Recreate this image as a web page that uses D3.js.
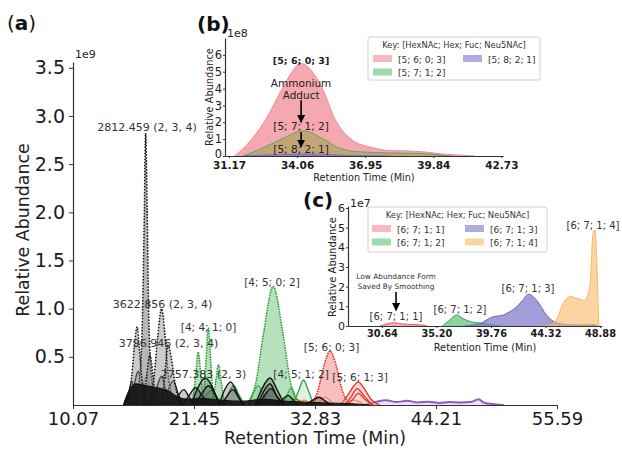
<!DOCTYPE html>
<html>
<head>
<meta charset="utf-8">
<script src="https://cdn.jsdelivr.net/npm/d3@7"></script>
<style>
body { margin: 0; background: #fff; }
text { font-family: 'DejaVu Sans', sans-serif; }
</style>
</head>
<body>
<svg width="622" height="450"></svg>
<script>
// ---- panel (a): retention time (min) / abundance (x1e9) ----
let mainXTicks = [10.07, 21.45, 32.83, 44.21, 55.59]
let mainYTicks = [0.5, 1.0, 1.5, 2.0, 2.5, 3.0, 3.5]

let grayDotted = [
    [[15.9, 0], [16.3, 0.25], [16.6, 0.9], [16.78, 2.0], [16.9, 2.82], [17.05, 2.0], [17.2, 0.9], [17.5, 0.25], [17.9, 0]],
    [[15.2, 0], [15.6, 0.3], [15.9, 0.68], [16.1, 0.81], [16.3, 0.6], [16.6, 0.22], [17.0, 0]],
    [[16.7, 0], [17.0, 0.3], [17.3, 0.52], [17.6, 0.3], [17.9, 0]],
    [[17.3, 0], [17.7, 0.3], [18.05, 0.72], [18.4, 1.0], [18.7, 0.75], [19.0, 0.35], [19.5, 0]],
    [[18.4, 0], [18.7, 0.3], [19.0, 0.62], [19.3, 0.5], [19.7, 0.2], [20.2, 0]]
]
let blackSolid = [
    [[14.9, 0], [15.3, 0.12], [15.6, 0.25], [15.9, 0.1], [16.2, 0]],
    [[15.4, 0], [15.8, 0.2], [16.2, 0.35], [16.6, 0.15], [17.0, 0]],
    [[16.0, 0], [16.5, 0.15], [17.0, 0.3], [17.4, 0.12], [17.8, 0]],
    [[17.5, 0], [18.0, 0.2], [18.4, 0.3], [18.8, 0.15], [19.2, 0]],
    [[18.5, 0], [19.0, 0.15], [19.5, 0.25], [20.0, 0.1], [20.4, 0]],
    [[19.6, 0], [20.0, 0.1], [20.5, 0.16], [21.0, 0.08], [21.5, 0]],
    [[20.4, 0], [21.0, 0.1], [21.6, 0.18], [22.2, 0.1], [22.8, 0]],
    [[21.2, 0], [21.7, 0.15], [22.5, 0.28], [23.2, 0.18], [23.8, 0]],
    [[21.5, 0], [22.2, 0.12], [22.8, 0.2], [23.5, 0.1], [24.0, 0]],
    [[23.8, 0], [24.3, 0.15], [24.9, 0.24], [25.5, 0.12], [26.0, 0]],
    [[24.0, 0], [24.6, 0.1], [25.1, 0.16], [25.7, 0.07], [26.2, 0]],
    [[27.2, 0], [27.9, 0.18], [28.6, 0.28], [29.3, 0.15], [30.0, 0]],
    [[27.4, 0], [28.0, 0.14], [28.6, 0.22], [29.2, 0.1], [29.8, 0]],
    [[27.5, 0], [28.1, 0.1], [28.7, 0.17], [29.3, 0.08], [30.0, 0]],
    [[29.3, 0], [29.8, 0.06], [30.3, 0.1], [30.8, 0.05], [31.2, 0]],
    [[32.0, 0], [32.6, 0.05], [33.2, 0.08], [33.8, 0.04], [34.4, 0]]
]
let baseClutter = [[14.8, 0], [15.2, 0.12], [16, 0.22], [17, 0.2], [18, 0.18], [19, 0.15], [20, 0.08], [21, 0.06], [22, 0.07], [24, 0.05], [26, 0.04], [28, 0.06], [30, 0.04], [32, 0.03], [34, 0.02], [36, 0.015], [38, 0]]
let greenDotted = [
    [[21.3, 0], [21.6, 0.3], [21.85, 0.55], [22.1, 0.3], [22.4, 0]],
    [[22.3, 0], [22.55, 0.4], [22.8, 0.8], [23.05, 0.4], [23.3, 0]],
    [[23.2, 0], [23.5, 0.25], [23.75, 0.42], [24.0, 0.25], [24.3, 0]],
    [[26.6, 0], [27.3, 0.25], [28.0, 0.75], [28.9, 1.23], [29.8, 0.75], [30.5, 0.25], [31.1, 0]]
]
let greenSolid = [
    [[22.0, 0], [22.6, 0.1], [23.1, 0.15], [23.6, 0.06], [24.1, 0]],
    [[24.2, 0], [24.7, 0.12], [25.2, 0.2], [25.7, 0.1], [26.2, 0]],
    [[26.5, 0], [27.0, 0.12], [27.5, 0.2], [28.0, 0.1], [28.5, 0]],
    [[29.7, 0], [30.2, 0.1], [30.6, 0.18], [31.0, 0.08], [31.4, 0]],
    [[30.8, 0], [31.3, 0.15], [31.75, 0.26], [32.2, 0.15], [32.7, 0]]
]
let redDotted = [
    [[32.4, 0], [33.1, 0.15], [33.7, 0.42], [34.25, 0.56], [34.8, 0.42], [35.4, 0.15], [36.1, 0]]
]
let redSolid = [
    [[35.2, 0], [35.9, 0.1], [36.5, 0.2], [36.9, 0.24], [37.4, 0.18], [38.1, 0.06], [38.9, 0]],
    [[35.6, 0], [36.2, 0.08], [36.8, 0.17], [37.4, 0.1], [38.2, 0]],
    [[35.8, 0], [36.4, 0.06], [36.9, 0.12], [37.5, 0.06], [38.3, 0]],
    [[26.5, 0], [27.2, 0.05], [27.9, 0]],
    [[28.0, 0], [28.6, 0.04], [29.2, 0]],
    [[30.2, 0], [31.0, 0.06], [31.8, 0]],
    [[32.5, 0], [33.3, 0.08], [34.0, 0]]
]
let orangeSolid = [
    [[31.0, 0], [31.8, 0.05], [32.5, 0]],
    [[33.0, 0], [33.8, 0.08], [34.6, 0]],
    [[35.5, 0], [36.5, 0.05], [37.5, 0]]
]
let purpleTail = [[37.5, 0], [38.5, 0.03], [39.5, 0.05], [40.5, 0.03], [41.5, 0.045], [42.5, 0.025], [43.5, 0.035], [44.5, 0.02], [45.5, 0.03], [46.5, 0.025], [47.5, 0.03], [48.2, 0.06], [48.8, 0.02], [49.5, 0.01], [50.5, 0]]
let mainLabels = [
    ['2812.459 (2, 3, 4)', 17.03, 2.84],
    ['3622.856 (2, 3, 4)', 18.49, 1.01],
    ['3796.946 (2, 3, 4)', 19.05, 0.6],
    ['[4; 4; 1; 0]', 22.82, 0.77],
    ['2757.383 (2, 3)', 22.35, 0.28],
    ['[4; 5; 0; 2]', 28.79, 1.235],
    ['[4; 5; 1; 2]', 31.52, 0.28],
    ['[5; 6; 0; 3]', 34.39, 0.56],
    ['[5; 6; 1; 3]', 37.07, 0.25]
]

// ---- panel (b): abundance x1e8 ----
let bXTicks = [31.17, 34.06, 36.95, 39.84, 42.73]
let bYTicks = [0, 1, 2, 3, 4, 5, 6]
let bNames = ['[5; 6; 0; 3]', '[5; 7; 1; 2]', '[5; 8; 2; 1]']
let b5603 = [[31.4, 0], [31.85, 0.55], [32.7, 2.1], [33.55, 4.3], [33.9, 5.1], [34.2, 5.5], [34.5, 5.3], [35.1, 4.1], [35.7, 2.1], [36.4, 0.95], [37.25, 0.5], [38.0, 0.32], [38.8, 0.3], [39.4, 0.25], [40.2, 0.12], [41.0, 0.05], [41.6, 0]]
let b5712 = [[31.77, 0], [32.4, 0.35], [33.55, 1.1], [34.3, 1.5], [35.1, 1.07], [35.8, 0.5], [36.66, 0.25], [38.0, 0.18], [39.3, 0.15], [40.2, 0.05], [40.6, 0]]
let b5821 = [[31.8, 0], [32.5, 0.05], [33.5, 0.1], [34.3, 0.12], [35.2, 0.1], [36.0, 0.05], [37.0, 0.02], [38.0, 0]]

// ---- panel (c): abundance x1e7 ----
let cXTicks = [30.64, 35.20, 39.76, 44.32, 48.88]
let cYTicks = [0, 1, 2, 3, 4, 5, 6]
let cNames = ['[6; 7; 1; 1]', '[6; 7; 1; 2]', '[6; 7; 1; 3]', '[6; 7; 1; 4]']
let c6711 = [[30.5, 0], [31.0, 0.1], [31.7, 0.17], [32.4, 0.1], [33.2, 0.08], [34.0, 0.05], [34.4, 0]]
let c6712 = [[35.7, 0], [36.3, 0.3], [36.9, 0.56], [37.5, 0.35], [38.2, 0.2], [38.8, 0.15], [39.6, 0.08], [40.5, 0]]
let c6713 = [[37.6, 0], [38.8, 0.12], [39.9, 0.46], [40.8, 0.56], [41.4, 0.75], [41.9, 0.97], [42.4, 1.3], [42.9, 1.62], [43.6, 1.3], [44.4, 0.56], [45.3, 0.15], [46.5, 0.06], [47.5, 0.05], [48.4, 0.07], [48.7, 0]]
let c6714 = [[44.3, 0], [45.0, 0.15], [45.3, 0.4], [45.8, 1.15], [46.4, 1.5], [47.0, 1.4], [47.6, 1.3], [48.05, 2.1], [48.3, 4.7], [48.46, 4.9], [48.63, 3.0], [48.8, 0.05], [48.85, 0]]

let pink = '#f28b96', green = '#5fbf78', purple = '#7b74c9', orange = '#f9b865'

let svg = d3.select('svg')
svg.append('defs').append('marker')
    .attr('id', 'arrow')
    .attr('viewBox', '0 0 10 10')
    .attr('refX', 9).attr('refY', 5)
    .attr('markerWidth', 5).attr('markerHeight', 5)
    .attr('orient', 'auto')
    .append('path').attr('d', 'M0,0 L10,5 L0,10 z').attr('fill', '#000')

function drawPeak(g, x, y, pts, fill, fillOp, stroke, sw, dotted) {
    let area = d3.area().x(d => x(d[0])).y0(y(0)).y1(d => y(d[1])).curve(d3.curveMonotoneX)
    let line = d3.line().x(d => x(d[0])).y(d => y(d[1])).curve(d3.curveMonotoneX)
    if (fill) {
        g.append('path').datum(pts).attr('d', area)
            .attr('fill', fill).attr('fill-opacity', fillOp)
    }
    if (stroke) {
        g.append('path').datum(pts).attr('d', line)
            .attr('fill', 'none').attr('stroke', stroke).attr('stroke-width', sw)
            .attr('stroke-linecap', 'round')
            .attr('stroke-dasharray', dotted ? '0,' + dotted : null)
    }
}

function drawAxes(x, y, xt, yt, xfmt, yfmt, fx, fy, tick, padX, padY, bold) {
    let gx = svg.append('g').attr('transform', 'translate(0,' + y.range()[0] + ')')
        .call(d3.axisBottom(x).tickValues(xt).tickFormat(xfmt).tickSize(tick).tickSizeOuter(0).tickPadding(padX))
    let gy = svg.append('g').attr('transform', 'translate(' + x.range()[0] + ',0)')
        .call(d3.axisLeft(y).tickValues(yt).tickFormat(yfmt).tickSize(tick).tickSizeOuter(0).tickPadding(padY))
    gx.attr('font-size', fx).attr('font-family', null).attr('font-weight', bold ? 'bold' : null)
    gy.attr('font-size', fy).attr('font-family', null)
    for (let a of [gx, gy]) {
        a.select('.domain').attr('stroke', '#333').attr('stroke-width', 1.2)
        a.selectAll('.tick line').attr('stroke', '#333')
        a.selectAll('.tick text').attr('fill', '#1a1a1a')
    }
    return gy
}

function label(txt, x, y, size, opts) {
    opts = opts || {}
    let t = svg.append('text').attr('x', x).attr('y', y)
        .attr('font-size', size).attr('fill', opts.fill || '#222')
        .attr('text-anchor', opts.anchor || 'start')
        .attr('font-weight', opts.bold ? 'bold' : null)
        .text(txt)
    if (opts.rotate) t.attr('transform', 'rotate(-90,' + x + ',' + y + ')')
    return t
}

function arrow(x1, y1, x2, y2) {
    svg.append('line').attr('x1', x1).attr('y1', y1).attr('x2', x2).attr('y2', y2)
        .attr('stroke', '#000').attr('stroke-width', 1.6).attr('marker-end', 'url(#arrow)')
}

function drawLegend(x0, y0, w, h, names, colors, cols, rows, titleSize, textSize) {
    svg.append('rect').attr('x', x0).attr('y', y0).attr('width', w).attr('height', h)
        .attr('rx', 2).attr('fill', '#fff').attr('fill-opacity', 0.85)
        .attr('stroke', '#d0d0d0')
    label('Key: [HexNAc; Hex; Fuc; Neu5NAc]', x0 + w / 2, y0 + 11, titleSize, { anchor: 'middle', fill: '#333' })
    names.forEach((n, i) => {
        let c = Math.floor(i / rows), r = i % rows
        let px = cols[c], py = y0 + 18 + r * 13.5
        svg.append('rect').attr('x', px).attr('y', py).attr('width', 19).attr('height', 7)
            .attr('fill', colors[i]).attr('fill-opacity', 0.6)
        label(n, px + 25, py + 7.5, textSize, { fill: '#333' })
    })
}

// ================= panel (a) =================
let x = d3.scaleLinear().domain([10.07, 55.59]).range([73, 557])
let y = d3.scaleLinear().domain([0, 3.56]).range([405, 62])
let ga = svg.append('g')

drawPeak(ga, x, y, purpleTail, '#b9a1e0', 0.3, '#8a5cc8', 2)
greenSolid.forEach(p => drawPeak(ga, x, y, p, '#8fd49a', 0.3, '#2fa845', 1.4))
orangeSolid.forEach(p => drawPeak(ga, x, y, p, null, 0, '#f08c30', 1.2))
redSolid.forEach((p, i) => drawPeak(ga, x, y, p, i == 0 ? '#f08080' : null, 0.35, '#e8332a', 1.3))
redDotted.forEach(p => drawPeak(ga, x, y, p, '#f08080', 0.5, '#e8332a', 1.8, 2.6))
greenDotted.forEach(p => drawPeak(ga, x, y, p, '#5cbf6a', 0.45, '#2e9e40', 1.8, 2.6))
blackSolid.forEach(p => drawPeak(ga, x, y, p, '#333', 0.25, '#111', 1.4))
grayDotted.forEach((p, i) => drawPeak(ga, x, y, p, i == 0 ? '#aaaaaa' : '#8c8c8c', i == 0 ? 0.85 : 0.45, '#1a1a1a', 1.8, 3))
drawPeak(ga, x, y, baseClutter, '#111', 0.9, '#111', 1)

mainLabels.forEach(l => label(l[0], x(l[1]), y(l[2]), l[0][0] == '[' ? 10.5 : 11, { anchor: 'middle', fill: '#333' }))

drawAxes(x, y, mainXTicks, mainYTicks, d3.format('.2f'), d3.format('.1f'), 18, 19, 4, 3, 4)
label('1e9', 75, 58, 11)
label('Relative Abundance', 29, 230, 17.4, { anchor: 'middle', rotate: true })
label('Retention Time (Min)', 315, 444, 17.4, { anchor: 'middle' })
svg.append('text').attr('x', 7).attr('y', 30).attr('font-size', 20).attr('fill', '#111')
    .call(t => {
        t.append('tspan').text('(')
        t.append('tspan').attr('font-weight', 'bold').text('a')
        t.append('tspan').text(')')
    })

// ================= panel (b) =================
let xb = d3.scaleLinear().domain([31.0, 42.8]).range([225, 503])
let yb = d3.scaleLinear().domain([0, 7]).range([156, 38])
let gb = svg.append('g')
drawPeak(gb, xb, yb, b5603, pink, 0.75, pink, 1)
drawPeak(gb, xb, yb, b5712, '#8fa23a', 0.5, '#5aa86a', 1)
drawPeak(gb, xb, yb, b5821, purple, 0.7, purple, 1)
let gyb = drawAxes(xb, yb, bXTicks, bYTicks, d3.format('.2f'), d3.format('d'), 10.5, 11.5, 2, 4, 1, true)
// lift the "0" label a little so it clears the first time label
gyb.selectAll('.tick text').filter(d => d == 0).attr('dy', '0.1em')
label('1e8', 227, 37, 11)
label('Relative Abundance', 213, 97, 9.8, { anchor: 'middle', rotate: true })
label('Retention Time (Min)', 364, 181, 9.7, { anchor: 'middle' })
label('(b)', 197, 31, 20, { bold: true, fill: '#111' })
drawLegend(368, 37, 172, 43, bNames, [pink, green, purple], [373, 463], 2, 8.3, 9)

let tb = xb(34.23)
label('[5; 6; 0; 3]', tb, yb(5.46), 9.5, { anchor: 'middle', bold: true })
label('Ammonium', tb, yb(4.09), 10.5, { anchor: 'middle' })
label('Adduct', tb, yb(3.38), 10.5, { anchor: 'middle' })
arrow(tb, yb(3.3), tb, yb(2.0))
label('[5; 7; 1; 2]', tb, yb(1.54), 10.5, { anchor: 'middle' })
arrow(tb, yb(1.42), tb, yb(0.53))
label('[5; 8; 2; 1]', tb, yb(0.16), 10.5, { anchor: 'middle' })

// ================= panel (c) =================
let xc = d3.scaleLinear().domain([27.8, 49.05]).range([348, 602])
let yc = d3.scaleLinear().domain([0, 6.1]).range([326, 206])
let gc = svg.append('g')
drawPeak(gc, xc, yc, c6711, pink, 0.7, '#e85a66', 1)
drawPeak(gc, xc, yc, c6712, green, 0.7, '#3aa55a', 1)
drawPeak(gc, xc, yc, c6713, purple, 0.7, '#6a62c0', 1)
drawPeak(gc, xc, yc, c6714, orange, 0.6, orange, 1)
drawAxes(xc, yc, cXTicks, cYTicks, d3.format('.2f'), d3.format('d'), 9.8, 11, 2, 2, 1, true)
label('1e7', 350, 207, 11)
label('Relative Abundance', 336, 267, 10, { anchor: 'middle', rotate: true })
label('Retention Time (Min)', 485, 351, 9.8, { anchor: 'middle' })
label('(c)', 303, 207, 20, { bold: true, fill: '#111' })
drawLegend(368, 207, 179, 45, cNames, [pink, green, purple, orange], [372, 465], 2, 8.3, 9)

let tc = xc(31.82)
label('Low Abundance Form', tc, yc(2.39), 7.4, { anchor: 'middle', fill: '#333' })
label('Saved By Smoothing', tc, yc(1.88), 7.4, { anchor: 'middle', fill: '#333' })
arrow(tc, yc(1.73), tc, yc(0.8))
label('[6; 7; 1; 1]', tc, yc(0.3), 10, { anchor: 'middle', fill: '#333' })
label('[6; 7; 1; 2]', xc(37.17), yc(0.66), 10, { anchor: 'middle', fill: '#333' })
label('[6; 7; 1; 3]', xc(42.86), yc(1.73), 10, { anchor: 'middle', fill: '#333' })
label('[6; 7; 1; 4]', xc(48.3), yc(4.93), 10, { anchor: 'middle', fill: '#333' })
</script>
</body>
</html>
